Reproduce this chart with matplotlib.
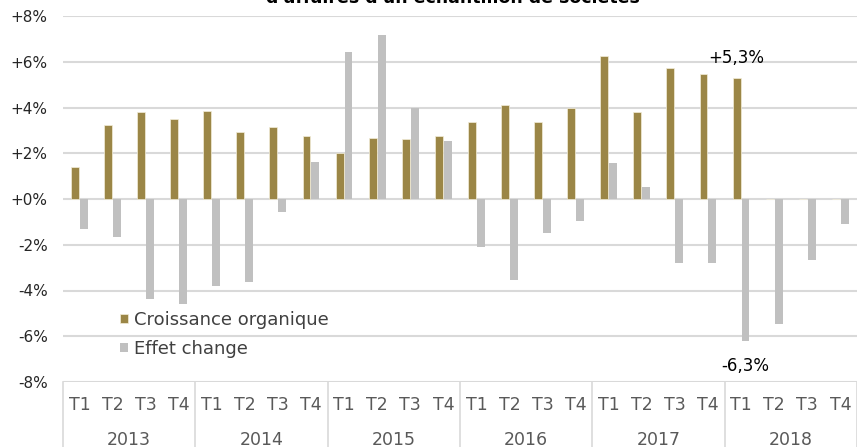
import numpy as np
import matplotlib.pyplot as plt
from matplotlib.transforms import blended_transform_factory

annees = ["2013", "2014", "2015", "2016", "2017", "2018"]
trimestres = ["T1", "T2", "T3", "T4"]

croissance = [1.40, 3.22, 3.80, 3.49,
              3.83, 2.93, 3.16, 2.74,
              2.02, 2.66, 2.63, 2.75,
              3.35, 4.13, 3.35, 3.96,
              6.23, 3.80, 5.72, 5.46,
              5.28, 0, 0, 0]
effet_change = [-1.32, -1.65, -4.37, -4.57,
                -3.81, -3.64, -0.57, 1.60,
                6.42, 7.17, 3.99, 2.52,
                -2.11, -3.52, -1.47, -0.96,
                1.57, 0.52, -2.81, -2.81,
                -6.21, -5.45, -2.66, -1.08]
y_ticks = [-8, -6, -4, -2, 0, 2, 4, 6, 8]

or_c = "#9b8646"
gris = "#c0c0c0"
txt = "#404040"

fig = plt.figure(figsize=(8.57, 4.47), dpi=100)
ax = fig.add_axes([63 / 857, 65 / 447, 1 - 63 / 857, 366 / 447])

x = np.arange(len(croissance))
w = 0.24
ax.bar(x - 0.14, croissance, w, color=or_c, edgecolor="#f3eed9", linewidth=0.5,
       label="Croissance organique", zorder=3)
ax.bar(x + 0.13, effet_change, w, color=gris, label="Effet change", zorder=3)

ax.set_xlim(-0.5, len(x) - 0.5)
ax.set_ylim(-8, 8)
ax.set_yticks(y_ticks)
ax.set_yticklabels([("+" if v >= 0 else "") + f"{v}%" for v in y_ticks],
                   fontsize=11, color="#262626")
ax.tick_params(axis="y", length=0, pad=11)
ax.set_xticks([])
ax.grid(axis="y", color="#d9d9d9", linewidth=1.5, zorder=0)
for s in ax.spines.values():
    s.set_visible(False)

# categories en bas
tr = blended_transform_factory(ax.transData, ax.transAxes)
for i in range(len(x)):
    ax.text(i, -0.062, trimestres[i % 4], transform=tr, ha="center", va="center",
            fontsize=12.5, color="#595959")
for j, a in enumerate(annees):
    ax.text(j * 4 + 1.5, -0.158, a, transform=tr, ha="center", va="center",
            fontsize=12.5, color="#595959")
for j in range(len(annees) + 1):
    ax.plot([j * 4 - 0.5, j * 4 - 0.5], [0, -0.2], transform=tr, color="#d9d9d9",
            linewidth=1.2, clip_on=False)

ax.text(20 - 0.14, 6.18, "+5,3%", ha="center", va="center", fontsize=12, color="black")
ax.text(20 + 0.13, -7.3, "-6,3%", ha="center", va="center", fontsize=12, color="black")

leg = ax.legend(loc="lower left", bbox_to_anchor=(0.072, 0.066), frameon=False,
                fontsize=13, handlelength=0.45, handleheight=0.45, handletextpad=0.3,
                labelspacing=0.6, borderaxespad=0, borderpad=0)
for t in leg.get_texts():
    t.set_color(txt)

fig.text(0.528, 1 - 3 / 447, "d'affaires d'un échantillon de sociétés", ha="center",
         va="baseline", fontsize=12.5, fontweight="bold", color="black")

fig.savefig("out.png", dpi=100)
